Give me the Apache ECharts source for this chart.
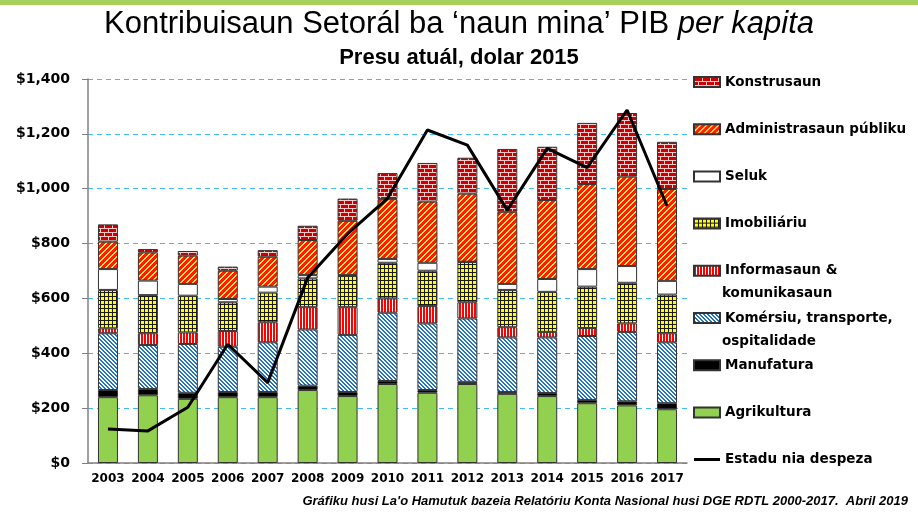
<!DOCTYPE html>
<html>
<head>
    <meta charset="utf-8">
    <title>Kontribuisaun Setorál</title>
    <script src="https://cdn.jsdelivr.net/npm/echarts/dist/echarts.min.js"></script>
    <style>
        html, body { margin:0; padding:0; background:#fff; }
        #main { width:918px; height:513px; }
    </style>
</head>
<body>
<div id="main"></div>
<script>
var years = ['2003','2004','2005','2006','2007','2008','2009','2010','2011','2012','2013','2014','2015','2016','2017'];
var agrikultura = [240, 247, 234, 240, 240, 266, 244, 288, 256, 288, 252, 244, 218, 210, 196];
var manufatura  = [26, 23, 22, 19, 19, 16, 15, 11, 10, 8, 7, 11, 12, 15, 22];
var komersiu    = [207, 160, 178, 165, 181, 205, 208, 249, 243, 231, 199, 203, 233, 253, 222];
var informasaun = [18, 43, 42, 57, 73, 81, 101, 52, 63, 59, 37, 20, 29, 31, 33];
var imobiliariu = [140, 139, 134, 105, 108, 105, 115, 130, 129, 147, 136, 146, 151, 148, 141];
var seluk       = [76, 53, 43, 12, 22, 12, 2, 14, 29, 1, 22, 47, 64, 61, 50];
var administrasaun = [100, 103, 103, 103, 109, 128, 198, 218, 223, 248, 263, 288, 310, 326, 335];
var konstrusaun = [63, 12, 17, 15, 24, 52, 81, 95, 141, 131, 229, 194, 223, 232, 172];
var estadu = [124, 117, 203, 433, 293, 675, 835, 965, 1214, 1159, 922, 1147, 1077, 1287, 937];

var yTicks = [0, 200, 400, 600, 800, 1000, 1200, 1400];

// fill patterns (excel style hatches)
function makePattern(w, h, fn) {
    var c = document.createElement('canvas');
    c.width = w; c.height = h;
    var ctx = c.getContext('2d');
    for (var y = 0; y < h; y++) {
        for (var x = 0; x < w; x++) {
            ctx.fillStyle = fn(x, y);
            ctx.fillRect(x, y, 1, 1);
        }
    }
    return { image: c, repeat: 'repeat' };
}

var brick = makePattern(8, 8, function (x, y) {
    if (y % 4 === 0) return '#F3CACA';
    if (y < 4 && x === 0) return '#F3CACA';
    if (y > 4 && x === 4) return '#F3CACA';
    return '#CC0000';
});
var stripeRed = makePattern(6, 6, function (x, y) {
    return (x + y) % 6 < 2 ? '#FFE34D' : '#FF1A00';
});
var gridYellow = makePattern(4, 4, function (x, y) {
    return (x % 4 === 0 || y % 4 === 0) ? '#1a1a1a' : '#FFFF00';
});
var vertRed = makePattern(3, 1, function (x, y) {
    return x % 3 === 2 ? '#ffffff' : '#FF0000';
});
var diagBlue = makePattern(4, 4, function (x, y) {
    return (x - y + 8) % 4 < 2 ? '#1F72C4' : '#ffffff';
});

var firstLine = {
    'Informasaun & komunikasaun': 'Informasaun &',
    'Komérsiu, transporte, ospitalidade': 'Komérsiu, transporte,'
};

var labelFont = '"DejaVu Sans", sans-serif';
var titleFont = '"Liberation Sans", sans-serif';

function barSeries(name, data, color) {
    return {
        name: name,
        type: 'bar',
        stack: 'pib',
        barWidth: 20,
        data: data,
        itemStyle: { color: color, borderColor: '#333', borderWidth: 1 }
    };
}

var chart = echarts.init(document.getElementById('main'));
var option = {
    animation: false,
    backgroundColor: '#fff',
    title: [
        {
            text: '{n|Kontribuisaun Setorál ba ‘naun mina’ PIB }{i|per kapita}',
            left: 'center',
            top: 4,
            textStyle: {
                rich: {
                    n: { fontFamily: titleFont, fontSize: 31, fontWeight: 'normal', color: '#000' },
                    i: { fontFamily: titleFont, fontSize: 31, fontWeight: 'normal', fontStyle: 'italic', color: '#000' }
                }
            }
        },
        {
            text: 'Presu atuál, dolar 2015',
            left: 'center',
            top: 42,
            textStyle: { fontFamily: titleFont, fontSize: 22, fontWeight: 'bold', color: '#000' }
        }
    ],
    legend: {
        orient: 'vertical',
        left: 693,
        top: 74,
        padding: 0,
        itemWidth: 26,
        itemHeight: 10,
        itemGap: 31.2,
        selectedMode: false,
        formatter: function (name) { return firstLine[name] || name; },
        textStyle: { fontFamily: labelFont, fontSize: 13.5, fontWeight: 'bold', color: '#000', lineHeight: 16 },
        data: [
            { name: 'Konstrusaun', icon: 'rect' },
            { name: 'Administrasaun públiku', icon: 'rect' },
            { name: 'Seluk', icon: 'rect' },
            { name: 'Imobiliáriu', icon: 'rect' },
            { name: 'Informasaun & komunikasaun', icon: 'rect' },
            { name: 'Komérsiu, transporte, ospitalidade', icon: 'rect' },
            { name: 'Manufatura', icon: 'rect' },
            { name: 'Agrikultura', icon: 'rect' },
            { name: 'Estadu nia despeza', icon: 'path://M0,3.5L26,3.5L26,6.5L0,6.5Z M0,0L0.1,0 M0,10L0.1,10' }
        ]
    },
    grid: { left: 88, right: 231, top: 79, bottom: 50 },
    xAxis: {
        type: 'category',
        data: years,
        axisLine: { lineStyle: { color: '#808080', width: 1.5 } },
        axisTick: { show: false },
        axisLabel: { interval: 0, fontFamily: labelFont, fontSize: 12, fontWeight: 'bold', color: '#000', margin: 10 }
    },
    yAxis: {
        type: 'value',
        min: yTicks[0],
        max: yTicks[yTicks.length - 1],
        interval: 200,
        axisLine: { show: true, lineStyle: { color: '#808080', width: 1.5 } },
        axisTick: { show: true, length: 6, lineStyle: { color: '#808080' } },
        axisLabel: {
            fontFamily: labelFont, fontSize: 14, fontWeight: 'bold', color: '#000', margin: 18,
            formatter: function (v) { return '$' + v.toLocaleString('en-US'); }
        },
        splitLine: { lineStyle: { color: '#3FBCEF', type: [5, 4], width: 1 } }
    },
    series: [
        barSeries('Agrikultura', agrikultura, '#92D050'),
        barSeries('Manufatura', manufatura, '#000000'),
        barSeries('Komérsiu, transporte, ospitalidade', komersiu, diagBlue),
        barSeries('Informasaun & komunikasaun', informasaun, vertRed),
        barSeries('Imobiliáriu', imobiliariu, gridYellow),
        barSeries('Seluk', seluk, '#ffffff'),
        barSeries('Administrasaun públiku', administrasaun, stripeRed),
        barSeries('Konstrusaun', konstrusaun, brick),
        {
            name: 'Estadu nia despeza',
            type: 'line',
            symbol: 'none',
            z: 5,
            data: estadu,
            lineStyle: { color: '#000', width: 3 },
            itemStyle: { color: '#000' }
        }
    ],
    graphic: [
        { type: 'rect', left: 0, top: 0, shape: { width: 918, height: 5 }, style: { fill: '#A9D05C' } },
        { type: 'text', left: 722, top: 286, style: { text: 'komunikasaun', font: 'bold 13.5px "DejaVu Sans"', fill: '#000' } },
        { type: 'text', left: 722, top: 334, style: { text: 'ospitalidade', font: 'bold 13.5px "DejaVu Sans"', fill: '#000' } },
        { type: 'text', right: 10, top: 495, style: { text: 'Gráfiku husi La\'o Hamutuk bazeia Relatóriu Konta Nasional husi DGE RDTL 2000-2017.  Abril 2019', font: 'italic bold 13px "Liberation Sans"', fill: '#000' } }
    ]
};
chart.setOption(option);
</script>
</body>
</html>
